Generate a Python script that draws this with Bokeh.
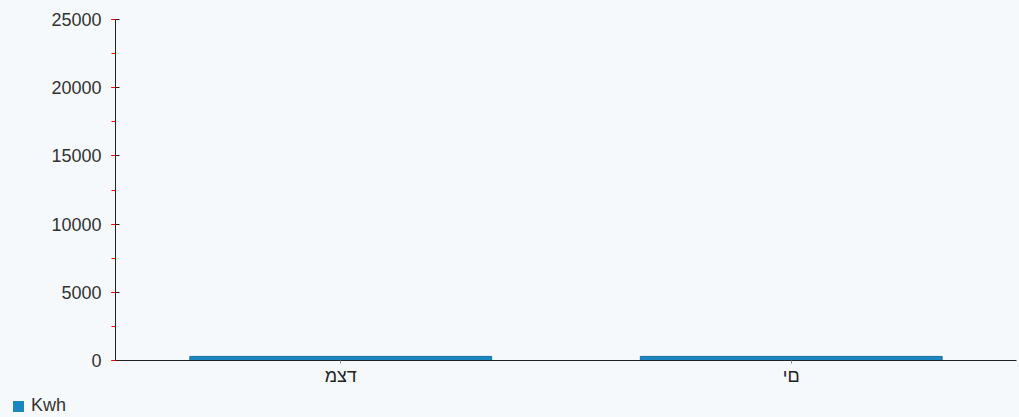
from bokeh.plotting import figure
from bokeh.layouts import column
from bokeh.models import SingleIntervalTicker, Range1d, ColumnDataSource, Div
from bokeh.embed import file_html
from bokeh.resources import INLINE

categories = ["דצמ", "םי"]
kwh = [300, 300]
series_name = "Kwh"

BG = "#f5f9fc"
BAR = "#1a87c3"

src = ColumnDataSource(dict(cat=categories, kwh=kwh))

p = figure(x_range=categories, y_range=Range1d(0, 25000), width=1017, height=392,
           output_backend="svg", toolbar_location=None,
           min_border_left=115, min_border_right=1, min_border_top=19, min_border_bottom=32)
p.background_fill_color = BG
p.border_fill_color = BG
p.outline_line_color = None
p.grid.visible = False

p.vbar(x="cat", top="kwh", width=0.67, source=src, fill_color=BAR,
       line_color="#16709f", line_width=1, legend_label=series_name)
p.legend.visible = False

p.yaxis.ticker = SingleIntervalTicker(interval=5000, num_minor_ticks=2)
p.yaxis.axis_line_color = "#222222"
p.yaxis.major_tick_line_color = "#222222"
p.yaxis.major_tick_in = 4
p.yaxis.major_tick_out = 4
p.yaxis.minor_tick_line_color = "red"
p.yaxis.minor_tick_in = 0
p.yaxis.minor_tick_out = 4
p.yaxis.major_label_standoff = 10
p.yaxis.major_label_text_font = "Liberation Sans"
p.yaxis.major_label_text_font_size = "18px"
p.yaxis.major_label_text_color = "#333333"

p.xaxis.axis_line_color = "#222222"
p.xaxis.major_tick_line_color = "#888888"
p.xaxis.major_tick_in = 0
p.xaxis.major_tick_out = 3
p.xaxis.major_label_standoff = 2
p.xaxis.major_label_text_font = "Liberation Sans"
p.xaxis.major_label_text_font_size = "18px"
p.xaxis.major_label_text_color = "#222222"

# legend strip below the chart
legend_html = (
    f'<span style="display:inline-block;width:11px;height:11px;background:{BAR};'
    f'vertical-align:middle;margin-right:7px"></span>{series_name}'
)
lg = Div(text=legend_html, width=1017, height=23,
         styles={"background-color": BG, "padding-left": "8px", "box-sizing": "border-box",
                 "font-family": "'Liberation Sans'", "font-size": "18px",
                 "line-height": "17px", "color": "#333333"})

layout = column(p, lg, spacing=0)
layout.styles = {"background-color": BG}

open("out.html", "w").write(file_html(layout, INLINE))
